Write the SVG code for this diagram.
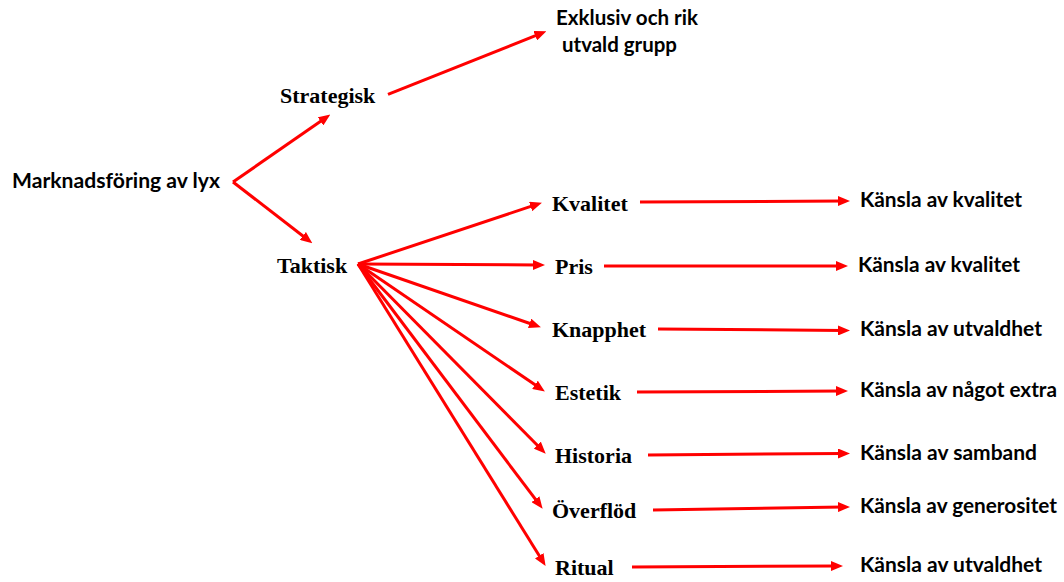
<svg xmlns="http://www.w3.org/2000/svg" width="1064" height="582" viewBox="0 0 1064 582">
<style>
.sans{font-family:Lato,"Liberation Sans",sans-serif;font-weight:bold;font-size:21px;fill:#000}
.serif{font-family:"Liberation Serif","Times New Roman",serif;font-weight:bold;font-size:22px;fill:#000}
.arr{stroke:#ff0000;stroke-width:3;fill:none;marker-end:url(#ah)}
</style>
<defs>
<marker id="ah" markerUnits="userSpaceOnUse" markerWidth="12" markerHeight="10" refX="5" refY="5" orient="auto">
<path d="M0,0 L12,5 L0,10 z" fill="#ff0000"/>
</marker>
</defs>
<rect width="1064" height="582" fill="#fff"/>
<g id="connectors">
<line class="arr" x1="233" y1="182" x2="324.6" y2="118.5"/>
<line class="arr" x1="233" y1="182" x2="306.8" y2="239"/>
<line class="arr" x1="388" y1="94.3" x2="539.9" y2="33.9"/>
<line class="arr" x1="358" y1="264" x2="535.3" y2="204.9"/>
<line class="arr" x1="358" y1="264" x2="538" y2="265"/>
<line class="arr" x1="358" y1="264" x2="534.3" y2="325"/>
<line class="arr" x1="358" y1="264" x2="539.1" y2="387.6"/>
<line class="arr" x1="358" y1="264" x2="540.8" y2="448.7"/>
<line class="arr" x1="358" y1="264" x2="538.4" y2="503.2"/>
<line class="arr" x1="358" y1="264" x2="541.9" y2="560"/>
<line class="arr" x1="640" y1="202" x2="843" y2="201"/>
<line class="arr" x1="604" y1="266" x2="841" y2="266"/>
<line class="arr" x1="658" y1="329" x2="843" y2="330.5"/>
<line class="arr" x1="637" y1="392" x2="841" y2="391"/>
<line class="arr" x1="648" y1="455" x2="843" y2="453.5"/>
<line class="arr" x1="653" y1="510" x2="843" y2="507"/>
<line class="arr" x1="632" y1="567" x2="836" y2="566"/>
</g>
<g id="n-marknad"><text class="sans" x="12" y="188" textLength="208" lengthAdjust="spacingAndGlyphs">Marknadsföring av lyx</text></g>
<g id="n-strategisk"><text class="serif" x="280" y="103">Strategisk</text></g>
<g id="n-exklusiv"><text class="sans" x="556" y="25" textLength="142" lengthAdjust="spacingAndGlyphs">Exklusiv och rik</text><text class="sans" x="562" y="52" textLength="115" lengthAdjust="spacingAndGlyphs">utvald grupp</text></g>
<g id="n-taktisk"><text class="serif" x="277" y="273">Taktisk</text></g>
<g id="n-kvalitet"><text class="serif" x="552" y="211">Kvalitet</text></g>
<g id="n-pris"><text class="serif" x="555" y="274">Pris</text></g>
<g id="n-knapphet"><text class="serif" x="552" y="337">Knapphet</text></g>
<g id="n-estetik"><text class="serif" x="555" y="400">Estetik</text></g>
<g id="n-historia"><text class="serif" x="555" y="463">Historia</text></g>
<g id="n-overflod"><text class="serif" x="552" y="518">Överflöd</text></g>
<g id="n-ritual"><text class="serif" x="555" y="575">Ritual</text></g>
<g id="r-kvalitet1"><text class="sans" x="860" y="207" textLength="162" lengthAdjust="spacingAndGlyphs">Känsla av kvalitet</text></g>
<g id="r-kvalitet2"><text class="sans" x="858" y="272" textLength="162" lengthAdjust="spacingAndGlyphs">Känsla av kvalitet</text></g>
<g id="r-utvaldhet1"><text class="sans" x="860" y="336" textLength="182" lengthAdjust="spacingAndGlyphs">Känsla av utvaldhet</text></g>
<g id="r-extra"><text class="sans" x="860" y="397" textLength="197" lengthAdjust="spacingAndGlyphs">Känsla av något extra</text></g>
<g id="r-samband"><text class="sans" x="860" y="460" textLength="177" lengthAdjust="spacingAndGlyphs">Känsla av samband</text></g>
<g id="r-generositet"><text class="sans" x="860" y="513" textLength="197" lengthAdjust="spacingAndGlyphs">Känsla av generositet</text></g>
<g id="r-utvaldhet2"><text class="sans" x="860" y="572" textLength="182" lengthAdjust="spacingAndGlyphs">Känsla av utvaldhet</text></g>
</svg>
